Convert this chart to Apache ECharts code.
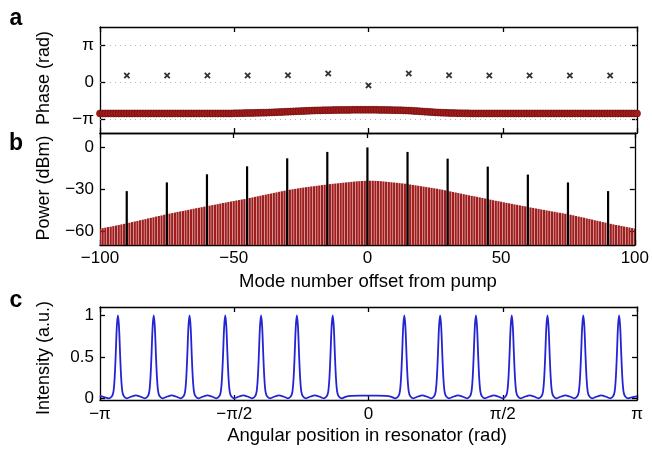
<!DOCTYPE html>
<html><head><meta charset="utf-8">
<script src="https://cdn.jsdelivr.net/npm/echarts@6/dist/echarts.min.js"></script>
<style>html,body{margin:0;padding:0;background:#fff}#c{width:652px;height:450px}</style>
</head><body><div id="c"></div>
<script>
// ---------- data ----------
const modeNumbers = Array.from({length: 201}, (_, i) => i - 100); // mode offsets -100..100

const combModes = [-90, -75, -60, -45, -30, -15, 0, 15, 30, 45, 60, 75, 90];
const combPhase = [0.55, 0.55, 0.55, 0.55, 0.57, 0.72, -0.28, 0.72, 0.57, 0.55, 0.55, 0.55, 0.55];
const combPower = [-31.5, -25.3, -19.5, -13.8, -8.1, -3.5, -0.3, -3.5, -8.3, -14.0, -19.7, -25.3, -31.5];

const cavityPhase = [
  -2.65,-2.65,-2.65,-2.65,-2.65,-2.65,-2.65,-2.65,-2.65,-2.65,
  -2.65,-2.65,-2.65,-2.65,-2.65,-2.65,-2.65,-2.65,-2.65,-2.65,
  -2.65,-2.65,-2.65,-2.65,-2.65,-2.65,-2.65,-2.65,-2.65,-2.65,
  -2.65,-2.65,-2.65,-2.65,-2.65,-2.65,-2.65,-2.65,-2.65,-2.65,
  -2.65,-2.65,-2.65,-2.65,-2.65,-2.65,-2.65,-2.65,-2.65,-2.65,
  -2.64,-2.64,-2.63,-2.63,-2.62,-2.62,-2.61,-2.61,-2.60,-2.60,
  -2.59,-2.58,-2.58,-2.57,-2.56,-2.55,-2.54,-2.53,-2.52,-2.51,
  -2.50,-2.49,-2.48,-2.47,-2.46,-2.45,-2.44,-2.43,-2.42,-2.41,
  -2.40,-2.39,-2.39,-2.38,-2.38,-2.37,-2.37,-2.36,-2.36,-2.36,
  -2.35,-2.35,-2.35,-2.35,-2.34,-2.34,-2.34,-2.34,-2.34,-2.34,
  -2.34,-2.34,-2.34,-2.34,-2.35,-2.35,-2.35,-2.36,-2.36,-2.37,
  -2.37,-2.38,-2.38,-2.39,-2.40,-2.41,-2.42,-2.44,-2.45,-2.47,
  -2.48,-2.50,-2.51,-2.53,-2.54,-2.56,-2.57,-2.58,-2.59,-2.60,
  -2.61,-2.62,-2.62,-2.63,-2.63,-2.64,-2.64,-2.64,-2.65,-2.65,
  -2.65,-2.65,-2.65,-2.65,-2.65,-2.65,-2.65,-2.65,-2.65,-2.65,
  -2.65,-2.65,-2.65,-2.65,-2.65,-2.65,-2.65,-2.65,-2.65,-2.65,
  -2.65,-2.65,-2.65,-2.65,-2.65,-2.65,-2.65,-2.65,-2.65,-2.65,
  -2.65,-2.65,-2.65,-2.65,-2.65,-2.65,-2.65,-2.65,-2.65,-2.65,
  -2.65,-2.65,-2.65,-2.65,-2.65,-2.65,-2.65,-2.65,-2.65,-2.65,
  -2.65,-2.65,-2.65,-2.65,-2.65,-2.65,-2.65,-2.65,-2.65,-2.65,
  -2.65
];

const cavityPower = [
  -58.3,-58.0,-57.6,-57.2,-56.9,-56.5,-56.1,-55.7,-55.3,-54.9,-54.5,
  -54.1,-53.6,-53.2,-52.8,-52.3,-51.9,-51.5,-51.0,-50.6,-50.2,-49.7,-49.3,-48.9,-48.4,-48.0,
  -47.6,-47.2,-46.8,-46.4,-46.0,-45.7,-45.3,-44.9,-44.5,-44.1,-43.7,-43.4,-43.0,-42.6,-42.3,
  -41.9,-41.5,-41.2,-40.8,-40.4,-40.0,-39.7,-39.3,-38.9,-38.6,-38.2,-37.9,-37.5,-37.2,-36.8,
  -36.4,-36.0,-35.6,-35.2,-34.8,-34.4,-34.0,-33.6,-33.2,-32.8,-32.4,-32.0,-31.6,-31.2,-30.8,
  -30.5,-30.2,-29.9,-29.6,-29.3,-29.0,-28.7,-28.5,-28.2,-28.0,-27.7,-27.5,-27.2,-27.0,-26.7,
  -26.5,-26.3,-26.1,-25.9,-25.7,-25.5,-25.3,-25.1,-24.9,-24.7,-24.5,-24.4,-24.3,-24.2,-24.1,
  -24.1,-24.1,-24.2,-24.3,-24.4,-24.6,-24.8,-25.0,-25.2,-25.4,-25.6,-25.8,-26.0,-26.2,-26.5,
  -26.8,-27.1,-27.4,-27.7,-28.0,-28.3,-28.6,-28.9,-29.2,-29.5,-29.8,-30.2,-30.5,-30.9,-31.3,
  -31.7,-32.1,-32.5,-32.9,-33.3,-33.7,-34.1,-34.5,-34.9,-35.2,-35.6,-36.0,-36.4,-36.8,-37.2,
  -37.6,-38.0,-38.4,-38.7,-39.1,-39.5,-39.9,-40.2,-40.6,-41.0,-41.3,-41.7,-42.1,-42.4,-42.8,
  -43.2,-43.5,-43.9,-44.2,-44.6,-44.9,-45.3,-45.6,-46.0,-46.3,-46.7,-47.0,-47.3,-47.7,-48.0,
  -48.4,-48.8,-49.3,-49.7,-50.1,-50.5,-51.0,-51.4,-51.8,-52.3,-52.7,-53.1,-53.6,-54.0,-54.5,
  -54.9,-55.3,-55.7,-56.0,-56.4,-56.8,-57.2,-57.5,-57.9,-58.3
];

// intensity vs angular position [rad, a.u.]
const intensityProfile = [
  [-3.1416,0.03],[-3.09,0.015],
  [-3.037,0],[-3.002,0.025],[-2.984,0.08],[-2.970,0.25],[-2.958,0.52],[-2.945,0.86],[-2.932,1],[-2.919,0.86],[-2.906,0.52],[-2.894,0.25],[-2.880,0.08],[-2.862,0.025],[-2.827,0],
  [-2.772,0.022],[-2.722,0.035],[-2.672,0.022],
  [-2.618,0],[-2.583,0.025],[-2.565,0.08],[-2.551,0.25],[-2.539,0.52],[-2.526,0.86],[-2.513,1],[-2.500,0.86],[-2.487,0.52],[-2.475,0.25],[-2.461,0.08],[-2.443,0.025],[-2.408,0],
  [-2.353,0.022],[-2.303,0.035],[-2.253,0.022],
  [-2.199,0],[-2.164,0.025],[-2.146,0.08],[-2.132,0.25],[-2.120,0.52],[-2.107,0.86],[-2.094,1],[-2.081,0.86],[-2.068,0.52],[-2.056,0.25],[-2.042,0.08],[-2.024,0.025],[-1.989,0],
  [-1.934,0.022],[-1.884,0.035],[-1.834,0.022],
  [-1.781,0],[-1.746,0.025],[-1.728,0.08],[-1.714,0.25],[-1.702,0.52],[-1.689,0.86],[-1.676,1],[-1.663,0.86],[-1.650,0.52],[-1.638,0.25],[-1.624,0.08],[-1.606,0.025],[-1.571,0],
  [-1.516,0.022],[-1.466,0.035],[-1.416,0.022],
  [-1.362,0],[-1.327,0.025],[-1.309,0.08],[-1.295,0.25],[-1.283,0.52],[-1.270,0.86],[-1.257,1],[-1.244,0.86],[-1.231,0.52],[-1.219,0.25],[-1.205,0.08],[-1.187,0.025],[-1.152,0],
  [-1.097,0.022],[-1.047,0.035],[-0.997,0.022],
  [-0.943,0],[-0.908,0.025],[-0.890,0.08],[-0.876,0.25],[-0.864,0.52],[-0.851,0.86],[-0.838,1],[-0.825,0.86],[-0.812,0.52],[-0.800,0.25],[-0.786,0.08],[-0.768,0.025],[-0.733,0],
  [-0.678,0.022],[-0.628,0.035],[-0.578,0.022],
  [-0.524,0],[-0.489,0.025],[-0.471,0.08],[-0.457,0.25],[-0.445,0.52],[-0.432,0.86],[-0.419,1],[-0.406,0.86],[-0.393,0.52],[-0.381,0.25],[-0.367,0.08],[-0.349,0.025],[-0.314,0],
  [-0.26,0.022],[-0.20,0.03],[-0.10,0.033],[0,0.033],[0.10,0.033],[0.20,0.03],[0.26,0.022],
  [0.314,0],[0.349,0.025],[0.367,0.08],[0.381,0.25],[0.393,0.52],[0.406,0.86],[0.419,1],[0.432,0.86],[0.445,0.52],[0.457,0.25],[0.471,0.08],[0.489,0.025],[0.524,0],
  [0.579,0.022],[0.629,0.035],[0.679,0.022],
  [0.733,0],[0.768,0.025],[0.786,0.08],[0.800,0.25],[0.812,0.52],[0.825,0.86],[0.838,1],[0.851,0.86],[0.864,0.52],[0.876,0.25],[0.890,0.08],[0.908,0.025],[0.943,0],
  [0.998,0.022],[1.048,0.035],[1.098,0.022],
  [1.152,0],[1.187,0.025],[1.205,0.08],[1.219,0.25],[1.231,0.52],[1.244,0.86],[1.257,1],[1.270,0.86],[1.283,0.52],[1.295,0.25],[1.309,0.08],[1.327,0.025],[1.362,0],
  [1.417,0.022],[1.467,0.035],[1.517,0.022],
  [1.571,0],[1.606,0.025],[1.624,0.08],[1.638,0.25],[1.650,0.52],[1.663,0.86],[1.676,1],[1.689,0.86],[1.702,0.52],[1.714,0.25],[1.728,0.08],[1.746,0.025],[1.781,0],
  [1.836,0.022],[1.886,0.035],[1.936,0.022],
  [1.989,0],[2.024,0.025],[2.042,0.08],[2.056,0.25],[2.068,0.52],[2.081,0.86],[2.094,1],[2.107,0.86],[2.120,0.52],[2.132,0.25],[2.146,0.08],[2.164,0.025],[2.199,0],
  [2.254,0.022],[2.304,0.035],[2.354,0.022],
  [2.408,0],[2.443,0.025],[2.461,0.08],[2.475,0.25],[2.487,0.52],[2.500,0.86],[2.513,1],[2.526,0.86],[2.539,0.52],[2.551,0.25],[2.565,0.08],[2.583,0.025],[2.618,0],
  [2.673,0.022],[2.723,0.035],[2.773,0.022],
  [2.827,0],[2.862,0.025],[2.880,0.08],[2.894,0.25],[2.906,0.52],[2.919,0.86],[2.932,1],[2.945,0.86],[2.958,0.52],[2.970,0.25],[2.984,0.08],[3.002,0.025],[3.037,0],
  [3.09,0.015],[3.1416,0.025]
];

// tick positions / labels
const modeTickInterval = 50;
const phaseTicks = [-Math.PI, 0, Math.PI];
const phaseTickLabels = ['−π', '0', 'π'];
const powerTicks = [-60, -30, 0];
const intensityTicks = [0, 0.5, 1];
const angleTicks = [-Math.PI, -Math.PI / 2, 0, Math.PI / 2, Math.PI];
const angleTickLabels = ['−π', '−π/2', '0', 'π/2', 'π'];

// ---------- chart ----------
const FONT = "'Liberation Sans', Arial, Helvetica, sans-serif";
const AX = {color: '#000', width: 1.3};
const lookup = (vals, labels) => v => {
  for (let i = 0; i < vals.length; i++) if (Math.abs(vals[i] - v) < 1e-6) return labels[i];
  return '';
};
const minus = v => String(v).replace('-', '−');

function axis(o) {
  return Object.assign({
    type: 'value',
    axisLine: {show: true, onZero: false, lineStyle: AX},
    axisTick: {show: true, inside: true, length: 5, lineStyle: AX},
    axisLabel: {show: false},
    splitLine: {show: false}
  }, o);
}
function customTicks(vals) { return {show: true, inside: true, length: 5, lineStyle: AX, customValues: vals}; }
const labelStyle = {color: '#000', fontFamily: FONT, fontSize: 17};

const grids = [
  {left: 100, top: 27, width: 537, height: 106},
  {left: 100, top: 133, width: 537, height: 112},
  {left: 100, top: 307, width: 537, height: 93}
];

function barRenderer(width, color) {
  return function (params, api) {
    const x = api.value(0), v = api.value(1);
    const top = api.coord([x, v]);
    const cs = params.coordSys;
    const bottom = cs.y + cs.height;
    return {
      type: 'rect',
      shape: {x: top[0] - width / 2, y: top[1], width: width, height: bottom - top[1]},
      style: {fill: color}
    };
  };
}

const option = {
  animation: false,
  backgroundColor: '#fff',
  grid: grids,
  xAxis: [
    axis({gridIndex: 0, position: 'bottom', min: -100, max: 100, interval: modeTickInterval}),
    axis({gridIndex: 0, position: 'top', min: -100, max: 100, interval: modeTickInterval}),
    axis({gridIndex: 1, position: 'bottom', min: -100, max: 100, interval: modeTickInterval,
      axisLabel: Object.assign({show: true, margin: 5, formatter: minus}, labelStyle)}),
    axis({gridIndex: 1, position: 'top', min: -100, max: 100, interval: modeTickInterval}),
    axis({gridIndex: 2, position: 'bottom', min: -Math.PI, max: Math.PI,
      axisTick: customTicks(angleTicks),
      axisLabel: Object.assign({show: true, margin: 6, customValues: angleTicks, formatter: lookup(angleTicks, angleTickLabels)}, labelStyle)}),
    axis({gridIndex: 2, position: 'top', min: -Math.PI, max: Math.PI, axisTick: customTicks(angleTicks)})
  ],
  yAxis: [
    axis({gridIndex: 0, position: 'left', min: -4.3, max: 4.65, axisTick: customTicks(phaseTicks),
      axisLabel: Object.assign({show: true, margin: 6, customValues: phaseTicks, formatter: lookup(phaseTicks, phaseTickLabels)}, labelStyle)}),
    axis({gridIndex: 0, position: 'right', min: -4.3, max: 4.65, axisTick: customTicks(phaseTicks)}),
    axis({gridIndex: 1, position: 'left', min: -70, max: 10, axisTick: customTicks(powerTicks),
      axisLabel: Object.assign({show: true, margin: 6, customValues: powerTicks, formatter: minus}, labelStyle)}),
    axis({gridIndex: 1, position: 'right', min: -70, max: 10, axisTick: customTicks(powerTicks)}),
    axis({gridIndex: 2, position: 'left', min: -0.02, max: 1.1, axisTick: customTicks(intensityTicks),
      axisLabel: Object.assign({show: true, margin: 6, customValues: intensityTicks, formatter: v => String(v)}, labelStyle)}),
    axis({gridIndex: 2, position: 'right', min: -0.02, max: 1.1, axisTick: customTicks(intensityTicks)})
  ],
  series: [
    {
      type: 'scatter', xAxisIndex: 0, yAxisIndex: 0, clip: false, z: 3,
      data: modeNumbers.map((m, i) => [m, cavityPhase[i]]),
      symbol: 'circle', symbolSize: 7,
      itemStyle: {color: '#a31d1d', borderColor: '#6f0e0e', borderWidth: 0.7, opacity: 1},
      markLine: {
        silent: true, symbol: 'none', label: {show: false}, animation: false,
        lineStyle: {type: [1, 4], color: '#b4b4b4', width: 1},
        data: phaseTicks.map(v => ({yAxis: v}))
      }
    },
    {
      type: 'scatter', xAxisIndex: 0, yAxisIndex: 0, clip: false, z: 4,
      data: combModes.map((m, i) => [m, combPhase[i]]),
      symbol: 'path://M0,2L2,0L5,3L8,0L10,2L7,5L10,8L8,10L5,7L2,10L0,8L3,5Z', symbolSize: 6.5,
      itemStyle: {color: '#000'}
    },
    {
      type: 'custom', xAxisIndex: 2, yAxisIndex: 2, clip: true,
      data: modeNumbers.map((m, i) => [m, cavityPower[i]]),
      renderItem: barRenderer(2.2, '#9f1d1d')
    },
    {
      type: 'custom', xAxisIndex: 2, yAxisIndex: 2, clip: true, z: 4,
      data: combModes.map((m, i) => [m, combPower[i]]),
      renderItem: barRenderer(2.2, '#000')
    },
    {
      type: 'line', xAxisIndex: 4, yAxisIndex: 4, showSymbol: false, smooth: 0.3,
      data: intensityProfile,
      lineStyle: {color: '#2424d4', width: 1.8}
    }
  ],
  graphic: [
    {type: 'text', x: 16, y: 19, style: {text: 'a', font: 'bold 23px ' + FONT, fill: '#000', textAlign: 'center', textVerticalAlign: 'middle'}},
    {type: 'text', x: 16, y: 144, style: {text: 'b', font: 'bold 23px ' + FONT, fill: '#000', textAlign: 'center', textVerticalAlign: 'middle'}},
    {type: 'text', x: 16, y: 301, style: {text: 'c', font: 'bold 23px ' + FONT, fill: '#000', textAlign: 'center', textVerticalAlign: 'middle'}},
    {type: 'text', x: 44, y: 78, rotation: Math.PI / 2, style: {text: 'Phase (rad)', font: '18px ' + FONT, fill: '#000', textAlign: 'center', textVerticalAlign: 'middle'}},
    {type: 'text', x: 44, y: 188, rotation: Math.PI / 2, style: {text: 'Power (dBm)', font: '18px ' + FONT, fill: '#000', textAlign: 'center', textVerticalAlign: 'middle'}},
    {type: 'text', x: 44, y: 358, rotation: Math.PI / 2, style: {text: 'Intensity (a.u.)', font: '18px ' + FONT, fill: '#000', textAlign: 'center', textVerticalAlign: 'middle'}},
    {type: 'text', x: 368, y: 282, style: {text: 'Mode number offset from pump', font: '18.5px ' + FONT, fill: '#000', textAlign: 'center', textVerticalAlign: 'middle'}},
    {type: 'text', x: 367, y: 436, style: {text: 'Angular position in resonator (rad)', font: '18.5px ' + FONT, fill: '#000', textAlign: 'center', textVerticalAlign: 'middle'}}
  ]
};

const chart = echarts.init(document.getElementById('c'), null, {renderer: 'canvas'});
chart.setOption(option);
</script>
</body></html>
